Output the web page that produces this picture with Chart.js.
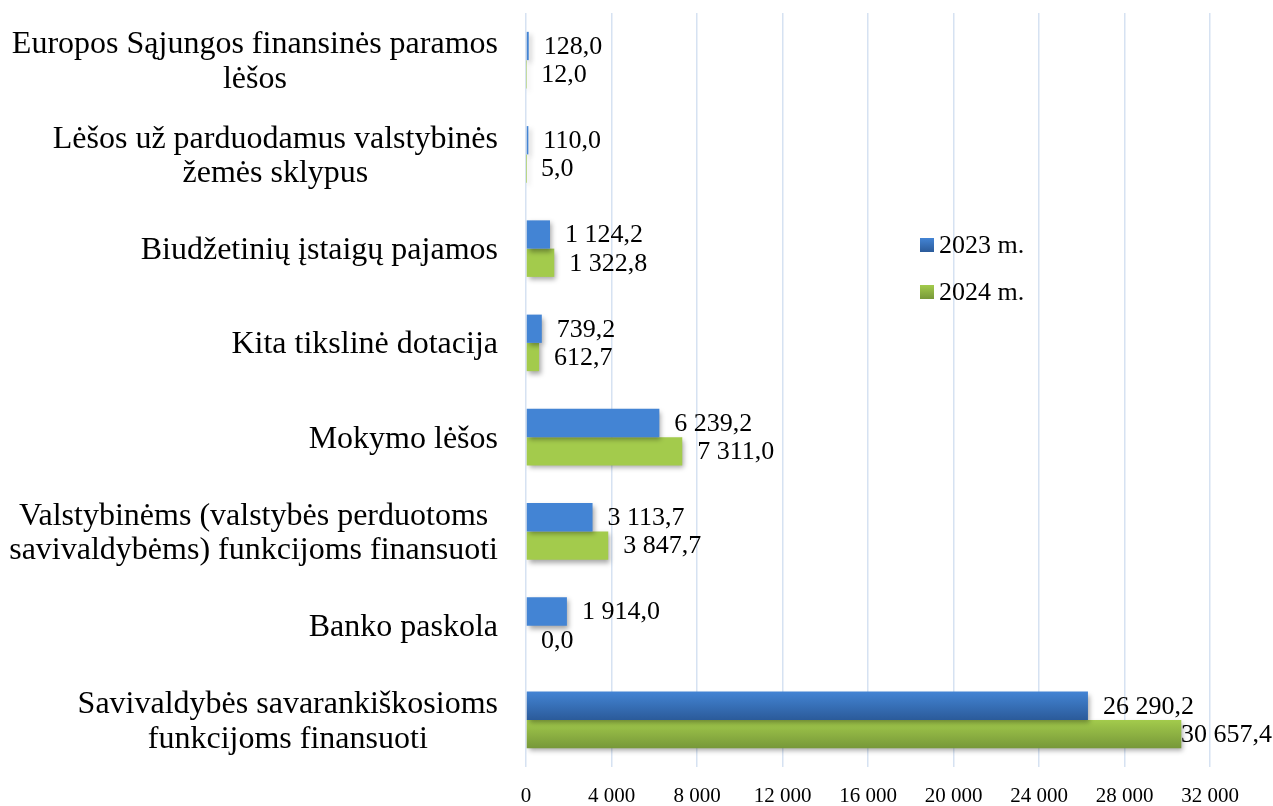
<!DOCTYPE html>
<html>
<head>
<meta charset="utf-8">
<script src="https://cdn.jsdelivr.net/npm/chart.js@4.4.1/dist/chart.umd.min.js"></script>
<style>
    html, body { margin: 0; padding: 0; background: #fff; }
    #wrap { width: 1273px; height: 806px; position: relative; }
</style>
</head>
<body>
<div id="wrap"><canvas id="chart"></canvas></div>
<script>
// kategorijos (iš viršaus į apačią)
const categories = [
    ["Europos Sąjungos finansinės paramos", "lėšos"],
    ["Lėšos už parduodamus valstybinės", "žemės sklypus"],
    "Biudžetinių įstaigų pajamos",
    "Kita tikslinė dotacija",
    "Mokymo lėšos",
    ["Valstybinėms (valstybės perduotoms", "savivaldybėms) funkcijoms finansuoti"],
    "Banko paskola",
    ["Savivaldybės savarankiškosioms", "funkcijoms finansuoti"],
];
const values2023 = [128.0, 110.0, 1124.2, 739.2, 6239.2, 3113.7, 1914.0, 26290.2];
const values2024 = [12.0, 5.0, 1322.8, 612.7, 7311.0, 3847.7, 0.0, 30657.4];
const seriesNames = ["2023 m.", "2024 m."];
const xTicks = [0, 4000, 8000, 12000, 16000, 20000, 24000, 28000, 32000];

const SERIF = "'Liberation Serif', 'Times New Roman', serif";
const colors = [
    { top: "#4384d4", bottom: "#2b5b9a" },
    { top: "#a3cb4c", bottom: "#779839" },
];

const groupThousands = (s) => s.replace(/\B(?=(\d{3})+(?!\d))/g, " ");
const fmtValue = (v) => {
    const [i, d] = v.toFixed(1).split(".");
    return groupThousands(i) + "," + d;
};

// gradientai stulpeliams + šešėlis
const barStylePlugin = {
    id: "barStyle",
    beforeDatasetsDraw(chart) {
        const ctx = chart.ctx;
        chart.data.datasets.forEach((ds, di) => {
            const meta = chart.getDatasetMeta(di);
            meta.data.forEach((bar) => {
                const h = bar.height;
                const g = ctx.createLinearGradient(0, bar.y - h / 2, 0, bar.y + h / 2);
                g.addColorStop(0, colors[di].top);
                g.addColorStop(1, colors[di].bottom);
                bar.options.backgroundColor = g;
            });
        });
        ctx.save();
        ctx.shadowColor = "rgba(0,0,0,0.35)";
        ctx.shadowBlur = 5;
        ctx.shadowOffsetX = 2;
        ctx.shadowOffsetY = 3;
    },
    afterDatasetsDraw(chart) {
        chart.ctx.restore();
    },
};

// kategorijų pavadinimai: kelių eilučių tekstas centruojamas pagal savo plačiausią eilutę
const categoryLabelPlugin = {
    id: "categoryLabels",
    afterDraw(chart) {
        const ctx = chart.ctx;
        const yScale = chart.scales.y;
        const right = chart.chartArea.left - 28;
        const lineH = 34.5;
        ctx.save();
        ctx.font = "32px " + SERIF;
        ctx.fillStyle = "#000";
        ctx.textBaseline = "middle";
        ctx.textAlign = "center";
        chart.data.labels.forEach((label, i) => {
            const lines = Array.isArray(label) ? label : [label];
            const maxW = Math.max(...lines.map((l) => ctx.measureText(l).width));
            const cx = right - maxW / 2;
            const yc = yScale.getPixelForValue(i) + 2;
            const y0 = yc - ((lines.length - 1) * lineH) / 2;
            lines.forEach((l, k) => ctx.fillText(l, cx, y0 + k * lineH));
        });
        ctx.restore();
    },
};

// reikšmių etiketės ir legenda
const labelPlugin = {
    id: "valueLabels",
    afterDraw(chart) {
        const ctx = chart.ctx;
        ctx.save();
        ctx.font = "26px " + SERIF;
        ctx.fillStyle = "#000";
        ctx.textBaseline = "middle";
        ctx.textAlign = "left";
        chart.data.datasets.forEach((ds, di) => {
            const meta = chart.getDatasetMeta(di);
            meta.data.forEach((bar, i) => {
                const txt = fmtValue(ds.data[i]);
                const w = ctx.measureText(txt).width;
                let x = bar.x + 15;
                x = Math.min(x, chart.width - w - 1);
                ctx.fillText(txt, x, bar.y + 1);
            });
        });

        // legenda
        const lx = 920;
        const ly = [245, 292];
        seriesNames.forEach((name, di) => {
            const g = ctx.createLinearGradient(0, ly[di] - 7, 0, ly[di] + 7);
            g.addColorStop(0, colors[di].top);
            g.addColorStop(1, colors[di].bottom);
            ctx.fillStyle = g;
            ctx.fillRect(lx, ly[di] - 7, 14, 14);
            ctx.fillStyle = "#000";
            ctx.fillText(name, lx + 19, ly[di] + 1);
        });
        ctx.restore();
    },
};

const chart = new Chart(document.getElementById("chart"), {
    type: "bar",
    data: {
        labels: categories,
        datasets: [
            { label: seriesNames[0], data: values2023 },
            { label: seriesNames[1], data: values2024 },
        ],
    },
    options: {
        indexAxis: "y",
        responsive: true,
        maintainAspectRatio: false,
        animation: false,
        layout: { padding: { top: 13, right: 63, bottom: 0, left: 0 } },
        datasets: {
            bar: {
                categoryPercentage: 0.6,
                barPercentage: 1.0,
                borderWidth: 0,
            },
        },
        plugins: {
            legend: { display: false },
            tooltip: { enabled: false },
        },
        scales: {
            x: {
                min: 0,
                max: 32000,
                afterBuildTicks: (scale) => {
                    scale.ticks = xTicks.map((v) => ({ value: v }));
                },
                afterFit: (scale) => {
                    scale.height = 39;
                    scale.paddingLeft = 0;
                    scale.paddingRight = 0;
                },
                grid: {
                    color: "#d6e2f2",
                    lineWidth: 1.5,
                    drawTicks: false,
                },
                border: { display: false },
                ticks: {
                    padding: 17,
                    color: "#000",
                    font: { family: SERIF, size: 21 },
                    callback: (v) => groupThousands(String(v)),
                },
            },
            y: {
                afterFit: (scale) => {
                    scale.width = 526;
                    scale.paddingTop = 0;
                    scale.paddingBottom = 0;
                },
                grid: { display: false, drawTicks: false },
                border: { display: false },
                ticks: { display: false },
            },
        },
    },
    plugins: [barStylePlugin, categoryLabelPlugin, labelPlugin],
});
</script>
</body>
</html>
